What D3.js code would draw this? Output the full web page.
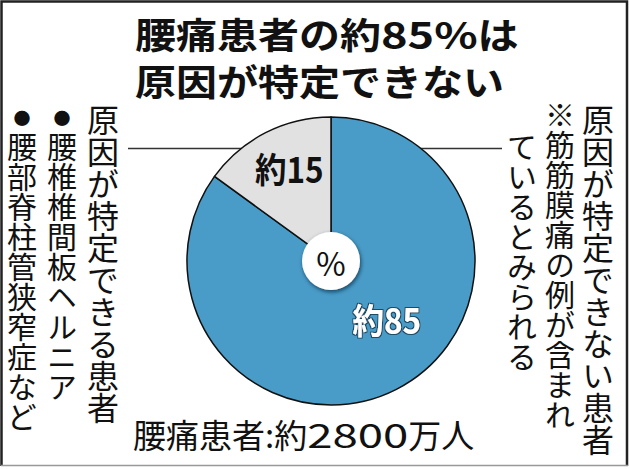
<!DOCTYPE html>
<html>
<head>
<meta charset="utf-8">
<script src="https://cdn.jsdelivr.net/npm/d3@7"></script>
<style>
  body { margin: 0; background: #fff; }
  svg { display: block; font-family: "Noto Sans CJK JP", sans-serif; }
  .vert { writing-mode: vertical-rl; text-orientation: upright; }
</style>
</head>
<body>
<div id="chart"></div>
<script>
// ----- Data -----
const titleLines = ["腰痛患者の約85%は", "原因が特定できない"];
const values = [85, 15];
const sliceLabels = ["約85", "約15"];
const unitLabel = "%";
const totalLabel = "腰痛患者:約2800万人";
const leftColumns = ["原因が特定できる患者", "●腰椎椎間板ヘルニア", "●腰部脊柱管狭窄症など"];
const rightColumns = ["原因が特定できない患者", "※筋筋膜痛の例が含まれ", "ているとみられる"];

// ----- Config -----
const width = 630;
const height = 469;
const cx = 331, cy = 261;
const radius = 144;
const colors = ["#4a9cc8", "#e1e1e1"];

const svg = d3.select("#chart")
  .append("svg")
  .attr("width", width)
  .attr("height", height);

// frame: dark on top/left/right, light grey at the bottom
svg.append("path")
  .attr("d", `M1.5,${height - 3} V1.5 H${width - 3} V${height - 3}`)
  .attr("fill", "none")
  .attr("stroke", "#222")
  .attr("stroke-width", 2.5);
svg.append("line")
  .attr("x1", 1).attr("x2", width - 2)
  .attr("y1", height - 3.5).attr("y2", height - 3.5)
  .attr("stroke", "#999")
  .attr("stroke-width", 1.5);

// writes text run by run; digits/percent get stretched wider like the paper's face
function drawRuns(parent, text, size, weight, numScale) {
  const parts = text.match(/[0-9%]+|[^0-9%]+/g);
  let x = 0;
  parts.forEach(p => {
    const isNum = /[0-9%]/.test(p);
    const t = parent.append("text")
      .attr("font-size", size)
      .attr("font-weight", weight)
      .attr("fill", "#111")
      .attr("transform", `translate(${x},0) scale(${isNum ? numScale : 1},1)`)
      .text(p);
    x += t.node().getComputedTextLength() * (isNum ? numScale : 1);
  });
}

// title (slightly flattened, as in the paper)
titleLines.forEach((line, i) => {
  const row = svg.append("g")
    .attr("transform", `translate(135,${49 + i * 47}) scale(1,0.9)`);
  drawRuns(row, line, 41, 700, 1.1);
});

// leader line behind pie
svg.append("line")
  .attr("x1", 128).attr("x2", 502)
  .attr("y1", 148.5).attr("y2", 148.5)
  .attr("stroke", "#333")
  .attr("stroke-width", 1.3);

// ----- Pie -----
const pie = d3.pie().sort(null).value(d => d);
const arcs = pie(values);

const arc = d3.arc().innerRadius(0).outerRadius(radius);

const g = svg.append("g").attr("transform", `translate(${cx},${cy})`);

g.selectAll("path")
  .data(arcs)
  .join("path")
  .attr("d", arc)
  .attr("fill", (d, i) => colors[i])
  .attr("stroke", "#111")
  .attr("stroke-width", 1.5)
  .attr("stroke-linejoin", "round");

// slice labels: placed off the arc's mid angle
const labelPos = d => {
  const r = d.index === 0 ? 80 : 102;
  const mid = (d.startAngle + d.endAngle) / 2;
  const a = d.index === 0 ? mid - 0.3 : mid + 0.05;
  return [Math.sin(a) * r, -Math.cos(a) * r];
};

const defs = svg.append("defs");
const glow = defs.append("filter").attr("id", "glow").attr("x", "-20%").attr("y", "-20%").attr("width", "140%").attr("height", "140%");
glow.append("feMorphology").attr("in", "SourceAlpha").attr("operator", "dilate").attr("radius", 1.2).attr("result", "d");
glow.append("feFlood").attr("flood-color", "#1b4b66");
glow.append("feComposite").attr("in2", "d").attr("operator", "in").attr("result", "o");
const m = glow.append("feMerge");
m.append("feMergeNode").attr("in", "o");
m.append("feMergeNode").attr("in", "SourceGraphic");

const shadow = defs.append("filter").attr("id", "shadow").attr("x", "-30%").attr("y", "-30%").attr("width", "160%").attr("height", "160%");
shadow.append("feGaussianBlur").attr("in", "SourceAlpha").attr("stdDeviation", 2.2).attr("result", "b");
shadow.append("feOffset").attr("in", "b").attr("dx", 1).attr("dy", 2).attr("result", "ob");
shadow.append("feFlood").attr("flood-color", "#0d3a57").attr("flood-opacity", 0.9);
shadow.append("feComposite").attr("in2", "ob").attr("operator", "in").attr("result", "s");
const m2 = shadow.append("feMerge");
m2.append("feMergeNode").attr("in", "s");
m2.append("feMergeNode").attr("in", "SourceGraphic");

g.selectAll("text.slice-label")
  .data(arcs)
  .join("text")
  .attr("class", "slice-label")
  .attr("transform", d => `translate(${labelPos(d)}) scale(0.9,1)`)
  .attr("text-anchor", "middle")
  .attr("dominant-baseline", "central")
  .attr("font-size", 35)
  .attr("font-weight", 700)
  .attr("fill", (d, i) => i === 0 ? "#fff" : "#111")
  .attr("filter", (d, i) => i === 0 ? "url(#glow)" : null)
  .text((d, i) => sliceLabels[i]);

// center hole with %
g.append("circle")
  .attr("r", 29)
  .attr("fill", "#fff")
  .attr("filter", "url(#shadow)");

g.append("text")
  .attr("text-anchor", "middle")
  .attr("dominant-baseline", "central")
  .attr("y", 1)
  .attr("font-size", 32)
  .attr("fill", "#111")
  .text(unitLabel);

// ----- Vertical side texts -----
function drawColumns(cols, xs, ys, sizes) {
  const col = svg.append("g")
    .selectAll("g")
    .data(cols)
    .join("g");

  // small bullet drawn on its own, above the column
  col.filter(d => d.startsWith("●"))
    .append("text")
    .attr("x", d => xs[cols.indexOf(d)])
    .attr("y", 117)
    .attr("text-anchor", "middle")
    .attr("dominant-baseline", "central")
    .attr("font-size", 17)
    .attr("fill", "#111")
    .text("●");

  col.append("text")
    .attr("class", "vert")
    .attr("x", d => xs[cols.indexOf(d)])
    .attr("y", d => ys[cols.indexOf(d)])
    .attr("font-size", d => sizes[cols.indexOf(d)])
    .attr("fill", "#111")
    .text(d => d.replace(/^●/, ""));
}

drawColumns(leftColumns, [103, 62, 22], [104, 132, 132], [32, 30, 30]);
drawColumns(rightColumns, [598, 560, 522], [104, 100, 132], [32, 30, 30]);

// total
const totalRow = svg.append("g").attr("transform", "translate(133,448)");
drawRuns(totalRow, totalLabel, 33, 400, 1.38);
</script>
</body>
</html>
